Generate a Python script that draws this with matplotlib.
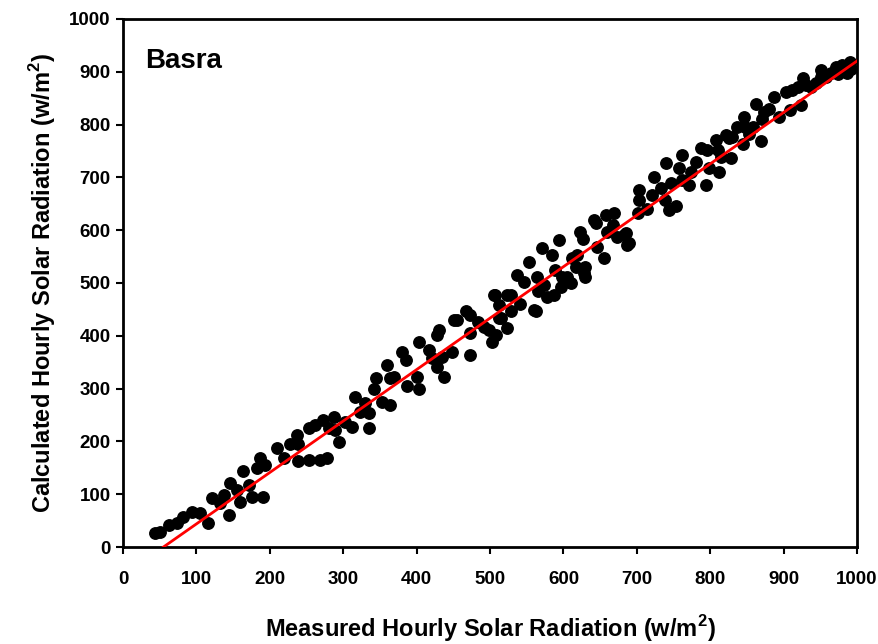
import matplotlib
matplotlib.use("Agg")
import matplotlib.pyplot as plt
import numpy as np

# measured vs calculated hourly solar radiation, Basra
measured = [44, 50, 62, 73, 82, 94, 105, 116, 121, 132, 137, 144, 146, 155, 160, 164,
            171, 176, 182, 187, 191, 194, 210, 219, 228, 237, 239, 239, 253, 253, 262,
            269, 273, 278, 280, 287, 289, 294, 303, 312, 316, 323, 330, 335, 335, 342,
            344, 353, 360, 364, 364, 369, 380, 385, 387, 401, 403, 403, 417, 421, 428,
            430, 428, 435, 437, 448, 451, 455, 467, 473, 473, 473, 483, 492, 498, 503,
            508, 505, 512, 512, 523, 523, 507, 515, 528, 528, 537, 541, 546, 553, 560,
            562, 564, 566, 571, 573, 578, 585, 587, 589, 594, 596, 598, 605, 610, 612,
            617, 619, 622, 626, 628, 630, 630, 642, 644, 646, 655, 658, 660, 669, 667,
            673, 685, 687, 683, 690, 701, 703, 703, 714, 721, 723, 733, 738, 740, 744,
            746, 753, 758, 762, 762, 771, 774, 780, 787, 794, 796, 798, 808, 810, 812,
            815, 821, 826, 828, 830, 837, 844, 846, 848, 853, 858, 862, 869, 871, 873,
            880, 887, 894, 903, 908, 912, 919, 924, 926, 930, 937, 944, 951, 951, 958,
            965, 971, 974, 980, 987, 990, 992]
calculated = [26, 28, 42, 45, 57, 67, 64, 45, 93, 83, 98, 61, 121, 108, 86, 143,
              117, 95, 149, 168, 95, 155, 187, 168, 196, 212, 196, 162, 225, 165, 231,
              165, 241, 168, 225, 247, 222, 199, 237, 228, 285, 256, 272, 253, 225, 300,
              320, 275, 345, 320, 269, 322, 370, 354, 304, 322, 389, 300, 373, 357, 341,
              411, 401, 360, 322, 370, 430, 430, 446, 440, 405, 364, 427, 417, 411, 389,
              401, 477, 458, 433, 414, 477, 477, 433, 477, 446, 515, 461, 502, 540, 449,
              446, 512, 484, 566, 496, 474, 553, 477, 525, 581, 493, 512, 512, 500, 547,
              530, 553, 597, 584, 518, 531, 512, 619, 613, 569, 547, 629, 597, 632, 610,
              588, 594, 572, 591, 575, 632, 676, 657, 641, 667, 701, 679, 657, 727, 638,
              689, 645, 717, 695, 742, 686, 711, 730, 755, 686, 752, 717, 771, 752, 711,
              739, 780, 774, 736, 777, 796, 764, 815, 796, 783, 796, 839, 768, 811, 824,
              830, 853, 815, 862, 828, 866, 872, 837, 888, 875, 872, 878, 903, 890, 890,
              898, 909, 895, 913, 898, 919, 906]

# regression line shown in red
fit_slope = 0.974
fit_intercept = -53.6
fit_range = [55, 1000]

plt.rcParams['font.family'] = ['Liberation Sans', 'DejaVu Sans']
plt.rcParams['font.weight'] = 'bold'
plt.rcParams['mathtext.fontset'] = 'custom'
plt.rcParams['mathtext.rm'] = 'Liberation Sans:bold'
plt.rcParams['mathtext.bf'] = 'Liberation Sans:bold'

fig = plt.figure(figsize=(8.79, 6.44), dpi=100)
ax = fig.add_axes([0.140, 0.1506, 0.835, 0.82])

ax.scatter(measured, calculated, s=68, color='black', zorder=2)

fit_x = np.array(fit_range)
ax.plot(fit_x, fit_slope * fit_x + fit_intercept, color='red', lw=2, zorder=3)

ax.set_xlim(0, 1000)
ax.set_ylim(0, 1000)
ax.set_xticks(range(0, 1001, 100))
ax.set_yticks(range(0, 1001, 100))
ax.tick_params(direction='out', length=5, width=1.5, labelsize=13.5, pad=12)
ax.tick_params(axis='y', pad=4)
for lab in ax.get_xticklabels() + ax.get_yticklabels():
    lab.set_fontweight('bold')
for sp in ax.spines.values():
    sp.set_linewidth(2)

ax.set_xlabel('Measured Hourly Solar Radiation (w/m$^2$)', fontsize=17,
              fontweight='bold', labelpad=18)
ax.set_ylabel('Calculated Hourly Solar Radiation (w/m$^2$)', fontsize=17,
              fontweight='bold', labelpad=8)
ax.text(0.03, 0.945, 'Basra', transform=ax.transAxes, fontsize=20,
        fontweight='bold', va='top')

plt.savefig('out.png', dpi=100)
